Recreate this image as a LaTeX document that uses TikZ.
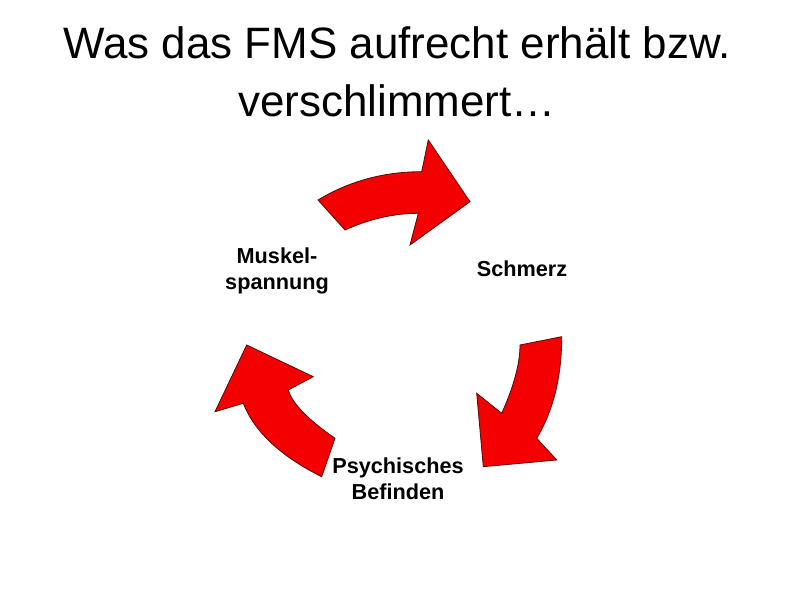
\documentclass[tikz,border=0pt]{standalone}
\usepackage{fontspec}
\setmainfont{Liberation Sans}
\usetikzlibrary{positioning}
\definecolor{arrow_red}{RGB}{245,0,0}
\definecolor{arrow_edge}{RGB}{90,10,10}
\tikzstyle{title_node} = [
    font=\fontsize{37.5}{49.8}\selectfont,
    align=center,
    anchor=base,
    inner sep=0pt
]
\tikzstyle{label_node} = [
    font=\fontsize{18.5}{23}\selectfont\bfseries,
    align=center,
    anchor=base,
    inner sep=0pt % base sits on the last line
]
\tikzstyle{cycle_arrow} = [
    fill=arrow_red,
    draw=arrow_edge,
    line width=0.7pt,
    line join=miter
]

\begin{document}
\begin{tikzpicture}[
    x=0.03cm,
    y=-0.03cm
]
\useasboundingbox (0,0) rectangle (800,600);

% Muskelspannung -> Schmerz
\draw [cycle_arrow] (318,200) .. controls (349.3,181.1) and (383.9,171.7) .. (421.7,171.7)
    -- (428.3,140) -- (470,201.7) -- (410,245) -- (418.3,213.3)
    .. controls (394.1,213.3) and (369.7,218.9) .. (345,230) -- cycle;
% Schmerz -> Psychisches Befinden
\draw [cycle_arrow] (520,345) -- (561.7,336.7)
    .. controls (561.7,376.6) and (553.4,410.5) .. (536.7,438.3)
    -- (556.7,460) -- (483.3,466.7) -- (476.7,393.3) -- (501.7,413.3)
    .. controls (513.9,386.2) and (520,363.4) .. (520,345) -- cycle;
% Psychisches Befinden -> Muskelspannung
\draw [cycle_arrow] (321.7,476.7) -- (335,438.3)
    .. controls (307.7,419.4) and (292.1,403.3) .. (288.3,390)
    -- (313.3,376.7) -- (246.7,345) -- (215,411.7) -- (243.3,403.3)
    .. controls (254.4,431.8) and (280.6,456.2) .. (321.7,476.7) -- cycle;

\node [title_node] (title) at (397,116.7) {Was das FMS aufrecht erhält bzw.\\verschlimmert\dots};
\node [label_node] (muskel) at (277,290) {Muskel-\\spannung};
\node [label_node] (schmerz) at (522,276.7) {Schmerz};
\node [label_node] (befinden) at (398,500) {Psychisches\\Befinden};
\end{tikzpicture}
\end{document}
